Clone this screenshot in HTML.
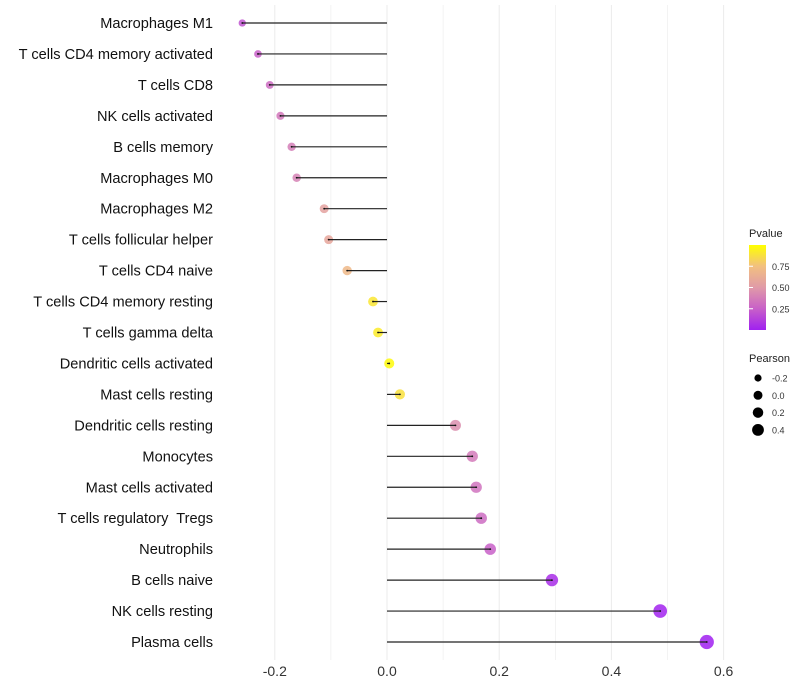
<!DOCTYPE html>
<html><head><meta charset="utf-8"><style>
body{margin:0;background:#fff;}
svg{display:block;font-family:"Liberation Sans",sans-serif;}
text{white-space:pre;}
</style></head><body>
<svg id="chart" width="800" height="700" viewBox="0 0 800 700">
<defs><linearGradient id="pg" x1="0" y1="1" x2="0" y2="0">
<stop offset="0" stop-color="#a020f0"/><stop offset="0.25" stop-color="#c860c8"/><stop offset="0.5" stop-color="#e09aa8"/><stop offset="0.75" stop-color="#f2c080"/><stop offset="1" stop-color="#ffff00"/></linearGradient></defs>
<g id="grid"></g><g id="marks"></g><g id="labels"></g><g id="legend"></g>
</svg>
<script>
const cells=["Macrophages M1","T cells CD4 memory activated","T cells CD8","NK cells activated","B cells memory","Macrophages M0","Macrophages M2","T cells follicular helper","T cells CD4 naive","T cells CD4 memory resting","T cells gamma delta","Dendritic cells activated","Mast cells resting","Dendritic cells resting","Monocytes","Mast cells activated","T cells regulatory  Tregs","Neutrophils","B cells naive","NK cells resting","Plasma cells"];
const pearson=[-0.258,-0.23,-0.209,-0.19,-0.17,-0.161,-0.112,-0.104,-0.071,-0.025,-0.016,0.004,0.023,0.122,0.152,0.159,0.168,0.184,0.294,0.487,0.57];
const pvalue=[0.2,0.25,0.3,0.35,0.38,0.4,0.55,0.58,0.7,0.9,0.92,0.98,0.88,0.45,0.36,0.33,0.3,0.25,0.05,0.01,0.0];
const xTicks=[-0.2,0,0.2,0.4,0.6];
const xTickLabels=["-0.2","0.0","0.2","0.4","0.6"];
const sizeBreaks=[-0.2,0,0.2,0.4];
const pBreaks=[0.25,0.5,0.75];

const NS="http://www.w3.org/2000/svg";
const X=v=>387+v*561;
const Y=i=>23+i*30.95;
const R=v=>Math.sqrt(Math.max(2.5,25+45*v));
const stops=[[0,[160,32,240]],[0.25,[200,96,200]],[0.5,[224,154,168]],[0.75,[242,192,128]],[1,[255,255,0]]];
function col(p){for(let k=1;k<stops.length;k++){if(p<=stops[k][0]){const a=stops[k-1],b=stops[k],t=(p-a[0])/(b[0]-a[0]);return "rgb("+a[1].map((c,j)=>Math.round(c+(b[1][j]-c)*t)).join(",")+")";}}return "rgb(255,255,0)";}
function mk(parent,tag,attrs,text){const e=document.createElementNS(NS,tag);for(const k in attrs)e.setAttribute(k,attrs[k]);if(text!==undefined)e.textContent=text;document.getElementById(parent).appendChild(e);return e;}

for(let g=-0.2;g<=0.61;g+=0.1){const e=mk("grid","line",{x1:X(g),x2:X(g),y1:5,y2:660,stroke:"#ebebeb","stroke-width":Math.abs(Math.round(g*10))%2===0?1:0.6});

}
xTicks.forEach((t,i)=>{const e=mk("labels","text",{x:X(t),y:676,"text-anchor":"middle","font-size":14,fill:"#333"},xTickLabels[i]);

});
cells.forEach((c,i)=>{
const y=Y(i);
const t=mk("labels","text",{x:213,y:y+5,"text-anchor":"end","font-size":14.6,fill:"#111"},c);


const p=mk("marks","circle",{cx:X(pearson[i]),cy:y,r:R(pearson[i]),fill:col(pvalue[i]),"fill-opacity":0.85});


const s=mk("marks","line",{x1:X(0),x2:X(pearson[i]),y1:y,y2:y,stroke:"#222","stroke-width":1.2});


const d=mk("marks","circle",{cx:X(pearson[i]),cy:y,r:0.9,fill:"#111"});


});
let e=mk("legend","text",{x:749,y:237,"font-size":11,fill:"#222"},"Pvalue");


e=mk("legend","rect",{x:749,y:245,width:17,height:85,fill:"url(#pg)"});


pBreaks.forEach(b=>{const y=330-b*85;
const l=mk("legend","line",{x1:749,x2:753,y1:y,y2:y,stroke:"#fff"});


const t=mk("legend","text",{x:772,y:y+3.5,"font-size":9,fill:"#333"},b.toFixed(2));

});
e=mk("legend","text",{x:749,y:362,"font-size":11,fill:"#222"},"Pearson");


sizeBreaks.forEach((b,i)=>{const y=378+i*17.3;
const c=mk("legend","circle",{cx:758,cy:y,r:R(b)*0.9,fill:"#000"});


const t=mk("legend","text",{x:772,y:y+3.5,"font-size":9,fill:"#333"},b.toFixed(1));

});
</script>
</body></html>
